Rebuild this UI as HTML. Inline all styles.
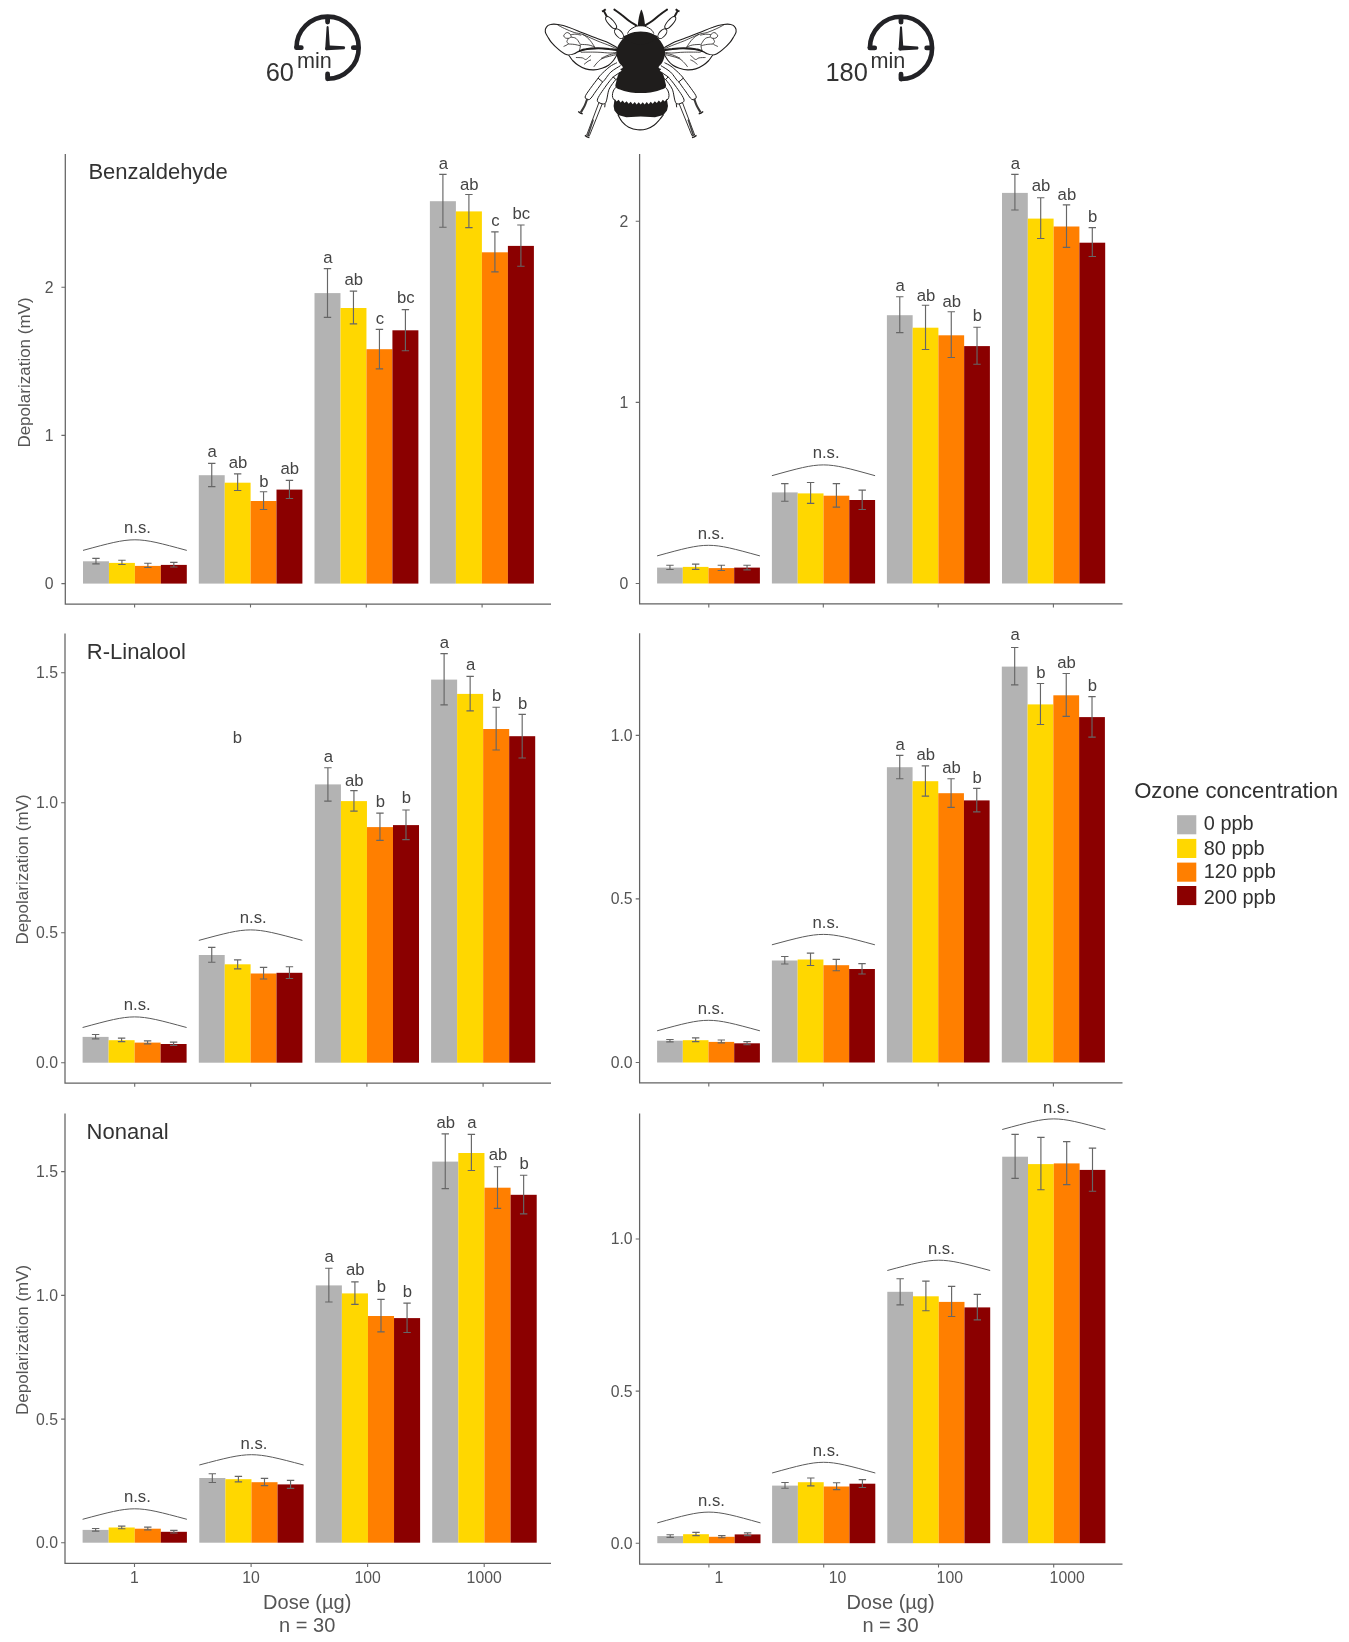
<!DOCTYPE html>
<html><head><meta charset="utf-8"><title>Figure</title>
<style>
html,body{margin:0;padding:0;background:#fff;}
body{width:1349px;height:1642px;overflow:hidden;}
svg{display:block;font-family:"Liberation Sans",sans-serif;will-change:transform;}
</style></head>
<body>
<svg width="1349" height="1642" viewBox="0 0 1349 1642">
<rect x="83" y="561.3" width="25.95" height="22.3" fill="#b3b3b3"/>
<rect x="108.95" y="562.9" width="25.95" height="20.7" fill="#ffd700"/>
<rect x="134.9" y="565.9" width="25.95" height="17.7" fill="#ff7f00"/>
<rect x="160.85" y="564.9" width="25.95" height="18.7" fill="#8b0000"/>
<rect x="198.8" y="475.2" width="25.9" height="108.4" fill="#b3b3b3"/>
<rect x="224.7" y="482.7" width="25.9" height="100.9" fill="#ffd700"/>
<rect x="250.6" y="501" width="25.9" height="82.6" fill="#ff7f00"/>
<rect x="276.5" y="489.6" width="25.9" height="94" fill="#8b0000"/>
<rect x="314.5" y="293.1" width="25.97" height="290.5" fill="#b3b3b3"/>
<rect x="340.48" y="308" width="25.97" height="275.6" fill="#ffd700"/>
<rect x="366.45" y="349.2" width="25.97" height="234.4" fill="#ff7f00"/>
<rect x="392.42" y="330.3" width="25.97" height="253.3" fill="#8b0000"/>
<rect x="429.9" y="201.2" width="26" height="382.4" fill="#b3b3b3"/>
<rect x="455.9" y="211.4" width="26" height="372.2" fill="#ffd700"/>
<rect x="481.9" y="252.3" width="26" height="331.3" fill="#ff7f00"/>
<rect x="507.9" y="245.9" width="26" height="337.7" fill="#8b0000"/>
<g stroke="#666666" stroke-width="1.15" fill="none">
<path d="M95.97 558.4V563.8M92.27 558.4h7.4M92.27 563.8h7.4M121.93 560.2V564.5M118.23 560.2h7.4M118.23 564.5h7.4M147.88 563.2V567.5M144.18 563.2h7.4M144.18 567.5h7.4M173.83 562.4V567M170.13 562.4h7.4M170.13 567h7.4"/>
<path d="M211.75 463.4V486.6M208.05 463.4h7.4M208.05 486.6h7.4M237.65 473.9V490.5M233.95 473.9h7.4M233.95 490.5h7.4M263.55 491.7V509.5M259.85 491.7h7.4M259.85 509.5h7.4M289.45 480.3V498.5M285.75 480.3h7.4M285.75 498.5h7.4"/>
<path d="M327.49 268.6V317.3M323.79 268.6h7.4M323.79 317.3h7.4M353.46 291.1V323.8M349.76 291.1h7.4M349.76 323.8h7.4M379.44 329.4V368.9M375.74 329.4h7.4M375.74 368.9h7.4M405.41 309.6V350.7M401.71 309.6h7.4M401.71 350.7h7.4"/>
<path d="M442.9 174.3V227.2M439.2 174.3h7.4M439.2 227.2h7.4M468.9 194.5V227.6M465.2 194.5h7.4M465.2 227.6h7.4M494.9 231.9V271.9M491.2 231.9h7.4M491.2 271.9h7.4M520.9 225V266.2M517.2 225h7.4M517.2 266.2h7.4"/>
</g>
<g stroke="#5a5a5a" stroke-width="1" fill="none">
<path d="M83 550.4C134.9 536.27 134.9 536.27 186.8 550.4"/>
</g>
<g font-size="16.7" fill="#444444" text-anchor="middle">
<text x="137.5" y="533.4">n.s.</text>
<text x="212.15" y="457.3">a</text>
<text x="238.05" y="468">ab</text>
<text x="263.95" y="487">b</text>
<text x="289.85" y="474.2">ab</text>
<text x="327.89" y="263.2">a</text>
<text x="353.86" y="285.4">ab</text>
<text x="379.84" y="324">c</text>
<text x="405.81" y="303.2">bc</text>
<text x="443.3" y="168.8">a</text>
<text x="469.3" y="189.6">ab</text>
<text x="495.3" y="225.6">c</text>
<text x="521.3" y="219.3">bc</text>
</g>
<path d="M65.3 154V604H551" stroke="#636363" stroke-width="1.25" fill="none"/>
<path d="M65.3 583.6h-3.9M65.3 435.4h-3.9M65.3 287.2h-3.9M134.6 604v3.6M250.5 604v3.6M366.3 604v3.6M482.1 604v3.6" stroke="#6a6a6a" stroke-width="1.1" fill="none"/>
<g font-size="15.8" fill="#555555">
<text x="53.6" y="589" text-anchor="end">0</text>
<text x="53.6" y="440.8" text-anchor="end">1</text>
<text x="53.6" y="292.6" text-anchor="end">2</text>
</g>
<text x="88.4" y="178.7" font-size="22" fill="#333">Benzaldehyde</text>
<text transform="translate(30.3 372.5) rotate(-90)" font-size="17" fill="#555555" text-anchor="middle">Depolarization (mV)</text>
<rect x="657.1" y="567.6" width="25.7" height="15.9" fill="#b3b3b3"/>
<rect x="682.8" y="566.9" width="25.7" height="16.6" fill="#ffd700"/>
<rect x="708.5" y="568.1" width="25.7" height="15.4" fill="#ff7f00"/>
<rect x="734.2" y="567.6" width="25.7" height="15.9" fill="#8b0000"/>
<rect x="771.9" y="492.4" width="25.8" height="91.1" fill="#b3b3b3"/>
<rect x="797.7" y="493.4" width="25.8" height="90.1" fill="#ffd700"/>
<rect x="823.5" y="495.7" width="25.8" height="87.8" fill="#ff7f00"/>
<rect x="849.3" y="500" width="25.8" height="83.5" fill="#8b0000"/>
<rect x="886.9" y="315.2" width="25.75" height="268.3" fill="#b3b3b3"/>
<rect x="912.65" y="327.7" width="25.75" height="255.8" fill="#ffd700"/>
<rect x="938.4" y="335.3" width="25.75" height="248.2" fill="#ff7f00"/>
<rect x="964.15" y="346.1" width="25.75" height="237.4" fill="#8b0000"/>
<rect x="1002" y="192.9" width="25.8" height="390.6" fill="#b3b3b3"/>
<rect x="1027.8" y="218.6" width="25.8" height="364.9" fill="#ffd700"/>
<rect x="1053.6" y="226.5" width="25.8" height="357" fill="#ff7f00"/>
<rect x="1079.4" y="242.7" width="25.8" height="340.8" fill="#8b0000"/>
<g stroke="#666666" stroke-width="1.15" fill="none">
<path d="M669.95 565.2V569.5M666.25 565.2h7.4M666.25 569.5h7.4M695.65 564.1V569.3M691.95 564.1h7.4M691.95 569.3h7.4M721.35 565.2V570.5M717.65 565.2h7.4M717.65 570.5h7.4M747.05 565.2V569.8M743.35 565.2h7.4M743.35 569.8h7.4"/>
<path d="M784.8 483.6V501.2M781.1 483.6h7.4M781.1 501.2h7.4M810.6 482.5V503.3M806.9 482.5h7.4M806.9 503.3h7.4M836.4 483.6V507.1M832.7 483.6h7.4M832.7 507.1h7.4M862.2 490.1V509.5M858.5 490.1h7.4M858.5 509.5h7.4"/>
<path d="M899.77 296.7V332.6M896.07 296.7h7.4M896.07 332.6h7.4M925.52 305.2V349.5M921.82 305.2h7.4M921.82 349.5h7.4M951.27 311.7V357.5M947.57 311.7h7.4M947.57 357.5h7.4M977.02 327.2V364.2M973.32 327.2h7.4M973.32 364.2h7.4"/>
<path d="M1014.9 174.4V210M1011.2 174.4h7.4M1011.2 210h7.4M1040.7 197.7V238.5M1037 197.7h7.4M1037 238.5h7.4M1066.5 204.8V247.4M1062.8 204.8h7.4M1062.8 247.4h7.4M1092.3 227.6V256.5M1088.6 227.6h7.4M1088.6 256.5h7.4"/>
</g>
<g stroke="#5a5a5a" stroke-width="1" fill="none">
<path d="M657.1 555.9C708.5 541.77 708.5 541.77 759.9 555.9"/>
<path d="M771.9 475.7C823.5 461.3 823.5 461.3 875.1 475.7"/>
</g>
<g font-size="16.7" fill="#444444" text-anchor="middle">
<text x="711.1" y="539">n.s.</text>
<text x="826.1" y="458.4">n.s.</text>
<text x="900.17" y="291.4">a</text>
<text x="925.92" y="300.9">ab</text>
<text x="951.67" y="306.9">ab</text>
<text x="977.42" y="320.9">b</text>
<text x="1015.3" y="169.2">a</text>
<text x="1041.1" y="191.4">ab</text>
<text x="1066.9" y="200.1">ab</text>
<text x="1092.7" y="221.5">b</text>
</g>
<path d="M639.6 154V603.8H1122.5" stroke="#636363" stroke-width="1.25" fill="none"/>
<path d="M639.6 583.5h-3.9M639.6 402.4h-3.9M639.6 221.2h-3.9M708.8 603.8v3.6M823.3 603.8v3.6M938.2 603.8v3.6M1053.4 603.8v3.6" stroke="#6a6a6a" stroke-width="1.1" fill="none"/>
<g font-size="15.8" fill="#555555">
<text x="628.4" y="588.9" text-anchor="end">0</text>
<text x="628.4" y="407.8" text-anchor="end">1</text>
<text x="628.4" y="226.6" text-anchor="end">2</text>
</g>
<rect x="82.6" y="1036.9" width="26" height="25.8" fill="#b3b3b3"/>
<rect x="108.6" y="1040.2" width="26" height="22.5" fill="#ffd700"/>
<rect x="134.6" y="1042.6" width="26" height="20.1" fill="#ff7f00"/>
<rect x="160.6" y="1044" width="26" height="18.7" fill="#8b0000"/>
<rect x="198.8" y="955" width="25.9" height="107.7" fill="#b3b3b3"/>
<rect x="224.7" y="964.3" width="25.9" height="98.4" fill="#ffd700"/>
<rect x="250.6" y="973.5" width="25.9" height="89.2" fill="#ff7f00"/>
<rect x="276.5" y="972.8" width="25.9" height="89.9" fill="#8b0000"/>
<rect x="314.9" y="784.4" width="26.03" height="278.3" fill="#b3b3b3"/>
<rect x="340.92" y="801.1" width="26.03" height="261.6" fill="#ffd700"/>
<rect x="366.95" y="827.1" width="26.03" height="235.6" fill="#ff7f00"/>
<rect x="392.98" y="825.1" width="26.03" height="237.6" fill="#8b0000"/>
<rect x="431.1" y="679.6" width="26.03" height="383.1" fill="#b3b3b3"/>
<rect x="457.12" y="693.9" width="26.03" height="368.8" fill="#ffd700"/>
<rect x="483.15" y="729" width="26.03" height="333.7" fill="#ff7f00"/>
<rect x="509.18" y="736.2" width="26.03" height="326.5" fill="#8b0000"/>
<g stroke="#666666" stroke-width="1.15" fill="none">
<path d="M95.6 1034.5V1038.8M91.9 1034.5h7.4M91.9 1038.8h7.4M121.6 1038.1V1041.6M117.9 1038.1h7.4M117.9 1041.6h7.4M147.6 1040.9V1043.8M143.9 1040.9h7.4M143.9 1043.8h7.4M173.6 1042.1V1045.4M169.9 1042.1h7.4M169.9 1045.4h7.4"/>
<path d="M211.75 947.4V962.2M208.05 947.4h7.4M208.05 962.2h7.4M237.65 959.8V968.8M233.95 959.8h7.4M233.95 968.8h7.4M263.55 967.4V979M259.85 967.4h7.4M259.85 979h7.4M289.45 966.7V978.5M285.75 966.7h7.4M285.75 978.5h7.4"/>
<path d="M327.91 767.7V801.1M324.21 767.7h7.4M324.21 801.1h7.4M353.94 790.6V811.1M350.24 790.6h7.4M350.24 811.1h7.4M379.96 813.1V840.3M376.26 813.1h7.4M376.26 840.3h7.4M405.99 810V839.6M402.29 810h7.4M402.29 839.6h7.4"/>
<path d="M444.11 653.6V704.8M440.41 653.6h7.4M440.41 704.8h7.4M470.14 676.3V710.8M466.44 676.3h7.4M466.44 710.8h7.4M496.16 707.2V750M492.46 707.2h7.4M492.46 750h7.4M522.19 714.4V758M518.49 714.4h7.4M518.49 758h7.4"/>
</g>
<g stroke="#5a5a5a" stroke-width="1" fill="none">
<path d="M82.6 1027.5C134.6 1013.37 134.6 1013.37 186.6 1027.5"/>
<path d="M198.8 940.4C250.6 926.4 250.6 926.4 302.4 940.4"/>
</g>
<g font-size="16.7" fill="#444444" text-anchor="middle">
<text x="137.2" y="1010.2">n.s.</text>
<text x="253.2" y="923.4">n.s.</text>
<text x="328.31" y="762.3">a</text>
<text x="354.34" y="785.5">ab</text>
<text x="380.36" y="807.3">b</text>
<text x="406.39" y="803.1">b</text>
<text x="444.51" y="648.2">a</text>
<text x="470.54" y="669.6">a</text>
<text x="496.56" y="700.5">b</text>
<text x="522.59" y="708.7">b</text>
<text x="237.3" y="743.4">b</text>
</g>
<path d="M65 633.4V1083.1H551" stroke="#636363" stroke-width="1.25" fill="none"/>
<path d="M65 1062.7h-3.9M65 932.7h-3.9M65 802.7h-3.9M65 672.8h-3.9M134.7 1083.1v3.6M250.7 1083.1v3.6M366.9 1083.1v3.6M483.1 1083.1v3.6" stroke="#6a6a6a" stroke-width="1.1" fill="none"/>
<g font-size="15.8" fill="#555555">
<text x="58" y="1068.1" text-anchor="end">0.0</text>
<text x="58" y="938.1" text-anchor="end">0.5</text>
<text x="58" y="808.1" text-anchor="end">1.0</text>
<text x="58" y="678.2" text-anchor="end">1.5</text>
</g>
<text x="86.8" y="658.6" font-size="22" fill="#333">R-Linalool</text>
<text transform="translate(28.4 869.5) rotate(-90)" font-size="17" fill="#555555" text-anchor="middle">Depolarization (mV)</text>
<rect x="657.1" y="1040.7" width="25.7" height="21.8" fill="#b3b3b3"/>
<rect x="682.8" y="1040.2" width="25.7" height="22.3" fill="#ffd700"/>
<rect x="708.5" y="1041.9" width="25.7" height="20.6" fill="#ff7f00"/>
<rect x="734.2" y="1043.3" width="25.7" height="19.2" fill="#8b0000"/>
<rect x="771.9" y="960.5" width="25.75" height="102" fill="#b3b3b3"/>
<rect x="797.65" y="959.5" width="25.75" height="103" fill="#ffd700"/>
<rect x="823.4" y="965.2" width="25.75" height="97.3" fill="#ff7f00"/>
<rect x="849.15" y="969" width="25.75" height="93.5" fill="#8b0000"/>
<rect x="886.9" y="767.2" width="25.68" height="295.3" fill="#b3b3b3"/>
<rect x="912.58" y="781.2" width="25.68" height="281.3" fill="#ffd700"/>
<rect x="938.25" y="793.2" width="25.68" height="269.3" fill="#ff7f00"/>
<rect x="963.92" y="800.4" width="25.68" height="262.1" fill="#8b0000"/>
<rect x="1001.8" y="666.6" width="25.78" height="395.9" fill="#b3b3b3"/>
<rect x="1027.58" y="704.4" width="25.78" height="358.1" fill="#ffd700"/>
<rect x="1053.35" y="695.3" width="25.78" height="367.2" fill="#ff7f00"/>
<rect x="1079.12" y="717.1" width="25.78" height="345.4" fill="#8b0000"/>
<g stroke="#666666" stroke-width="1.15" fill="none">
<path d="M669.95 1039.5V1041.9M666.25 1039.5h7.4M666.25 1041.9h7.4M695.65 1037.8V1041.6M691.95 1037.8h7.4M691.95 1041.6h7.4M721.35 1040V1042.8M717.65 1040h7.4M717.65 1042.8h7.4M747.05 1041.6V1044.7M743.35 1041.6h7.4M743.35 1044.7h7.4"/>
<path d="M784.77 956.5V964M781.07 956.5h7.4M781.07 964h7.4M810.52 953.1V965.5M806.82 953.1h7.4M806.82 965.5h7.4M836.27 959.3V970.7M832.57 959.3h7.4M832.57 970.7h7.4M862.02 963.6V974M858.32 963.6h7.4M858.32 974h7.4"/>
<path d="M899.74 755.4V778.7M896.04 755.4h7.4M896.04 778.7h7.4M925.41 765.8V796.1M921.71 765.8h7.4M921.71 796.1h7.4M951.09 778.7V807.3M947.39 778.7h7.4M947.39 807.3h7.4M976.76 788.3V811.9M973.06 788.3h7.4M973.06 811.9h7.4"/>
<path d="M1014.69 647.5V684.9M1010.99 647.5h7.4M1010.99 684.9h7.4M1040.46 683.5V724.5M1036.76 683.5h7.4M1036.76 724.5h7.4M1066.24 673.5V716.4M1062.54 673.5h7.4M1062.54 716.4h7.4M1092.01 696.6V737.1M1088.31 696.6h7.4M1088.31 737.1h7.4"/>
</g>
<g stroke="#5a5a5a" stroke-width="1" fill="none">
<path d="M657.1 1030.8C708.5 1016.8 708.5 1016.8 759.9 1030.8"/>
<path d="M771.9 944.8C823.4 930.93 823.4 930.93 874.9 944.8"/>
</g>
<g font-size="16.7" fill="#444444" text-anchor="middle">
<text x="711.1" y="1013.8">n.s.</text>
<text x="826" y="928.4">n.s.</text>
<text x="900.14" y="749.6">a</text>
<text x="925.81" y="759.5">ab</text>
<text x="951.49" y="773.1">ab</text>
<text x="977.16" y="782.7">b</text>
<text x="1015.09" y="640.1">a</text>
<text x="1040.86" y="677.9">b</text>
<text x="1066.64" y="667.7">ab</text>
<text x="1092.41" y="691">b</text>
</g>
<path d="M639.6 633.3V1082.9H1122.5" stroke="#636363" stroke-width="1.25" fill="none"/>
<path d="M639.6 1062.5h-3.9M639.6 898.9h-3.9M639.6 735.4h-3.9M708.8 1082.9v3.6M823.3 1082.9v3.6M938.2 1082.9v3.6M1053.4 1082.9v3.6" stroke="#6a6a6a" stroke-width="1.1" fill="none"/>
<g font-size="15.8" fill="#555555">
<text x="632.6" y="1067.9" text-anchor="end">0.0</text>
<text x="632.6" y="904.3" text-anchor="end">0.5</text>
<text x="632.6" y="740.8" text-anchor="end">1.0</text>
</g>
<rect x="82.6" y="1529.9" width="26.08" height="12.8" fill="#b3b3b3"/>
<rect x="108.67" y="1527.5" width="26.08" height="15.2" fill="#ffd700"/>
<rect x="134.75" y="1528.7" width="26.08" height="14" fill="#ff7f00"/>
<rect x="160.82" y="1531.8" width="26.08" height="10.9" fill="#8b0000"/>
<rect x="199.3" y="1478" width="26.08" height="64.7" fill="#b3b3b3"/>
<rect x="225.38" y="1479.2" width="26.08" height="63.5" fill="#ffd700"/>
<rect x="251.45" y="1482.2" width="26.08" height="60.5" fill="#ff7f00"/>
<rect x="277.53" y="1484.4" width="26.08" height="58.3" fill="#8b0000"/>
<rect x="315.8" y="1285.4" width="26.08" height="257.3" fill="#b3b3b3"/>
<rect x="341.88" y="1293.4" width="26.08" height="249.3" fill="#ffd700"/>
<rect x="367.95" y="1316" width="26.08" height="226.7" fill="#ff7f00"/>
<rect x="394.03" y="1318.1" width="26.08" height="224.6" fill="#8b0000"/>
<rect x="432.2" y="1161.6" width="26.13" height="381.1" fill="#b3b3b3"/>
<rect x="458.32" y="1153" width="26.13" height="389.7" fill="#ffd700"/>
<rect x="484.45" y="1187.7" width="26.13" height="355" fill="#ff7f00"/>
<rect x="510.58" y="1194.8" width="26.13" height="347.9" fill="#8b0000"/>
<g stroke="#666666" stroke-width="1.15" fill="none">
<path d="M95.64 1528.5V1531.1M91.94 1528.5h7.4M91.94 1531.1h7.4M121.71 1526.1V1528.7M118.01 1526.1h7.4M118.01 1528.7h7.4M147.79 1527.1V1529.9M144.09 1527.1h7.4M144.09 1529.9h7.4M173.86 1530.4V1533M170.16 1530.4h7.4M170.16 1533h7.4"/>
<path d="M212.34 1473.7V1482.5M208.64 1473.7h7.4M208.64 1482.5h7.4M238.41 1476.3V1481.8M234.71 1476.3h7.4M234.71 1481.8h7.4M264.49 1478.4V1485.6M260.79 1478.4h7.4M260.79 1485.6h7.4M290.56 1480.3V1488.4M286.86 1480.3h7.4M286.86 1488.4h7.4"/>
<path d="M328.84 1268.2V1302M325.14 1268.2h7.4M325.14 1302h7.4M354.91 1281.8V1304.3M351.21 1281.8h7.4M351.21 1304.3h7.4M380.99 1299.4V1331.8M377.29 1299.4h7.4M377.29 1331.8h7.4M407.06 1303.1V1332.5M403.36 1303.1h7.4M403.36 1332.5h7.4"/>
<path d="M445.26 1133.8V1188.6M441.56 1133.8h7.4M441.56 1188.6h7.4M471.39 1134.3V1170.5M467.69 1134.3h7.4M467.69 1170.5h7.4M497.51 1166.7V1208.3M493.81 1166.7h7.4M493.81 1208.3h7.4M523.64 1175.2V1213.9M519.94 1175.2h7.4M519.94 1213.9h7.4"/>
</g>
<g stroke="#5a5a5a" stroke-width="1" fill="none">
<path d="M82.6 1519.3C134.75 1505.3 134.75 1505.3 186.9 1519.3"/>
<path d="M199.3 1465C251.45 1451.27 251.45 1451.27 303.6 1465"/>
</g>
<g font-size="16.7" fill="#444444" text-anchor="middle">
<text x="137.35" y="1502.3">n.s.</text>
<text x="254.05" y="1448.7">n.s.</text>
<text x="329.24" y="1261.7">a</text>
<text x="355.31" y="1275">ab</text>
<text x="381.39" y="1291.9">b</text>
<text x="407.46" y="1296.6">b</text>
<text x="445.66" y="1128.2">ab</text>
<text x="471.79" y="1128.2">a</text>
<text x="497.91" y="1160">ab</text>
<text x="524.04" y="1168.7">b</text>
</g>
<path d="M65 1113.5V1563.3H551" stroke="#636363" stroke-width="1.25" fill="none"/>
<path d="M65 1542.7h-3.9M65 1419.1h-3.9M65 1295.4h-3.9M65 1171.6h-3.9M134.5 1563.3v3.6M251.1 1563.3v3.6M367.6 1563.3v3.6M484.2 1563.3v3.6" stroke="#6a6a6a" stroke-width="1.1" fill="none"/>
<g font-size="15.8" fill="#555555">
<text x="58" y="1548.1" text-anchor="end">0.0</text>
<text x="58" y="1424.5" text-anchor="end">0.5</text>
<text x="58" y="1300.8" text-anchor="end">1.0</text>
<text x="58" y="1177" text-anchor="end">1.5</text>
<text x="134.5" y="1583.1" text-anchor="middle">1</text>
<text x="251.1" y="1583.1" text-anchor="middle">10</text>
<text x="367.6" y="1583.1" text-anchor="middle">100</text>
<text x="484.2" y="1583.1" text-anchor="middle">1000</text>
</g>
<text x="86.6" y="1138.6" font-size="22" fill="#333">Nonanal</text>
<text transform="translate(28.4 1339.9) rotate(-90)" font-size="17" fill="#555555" text-anchor="middle">Depolarization (mV)</text>
<text x="307.2" y="1608.9" font-size="20" fill="#555555" text-anchor="middle">Dose (µg)</text>
<text x="307.2" y="1632" font-size="20" fill="#555555" text-anchor="middle">n = 30</text>
<rect x="657.3" y="1536.1" width="25.8" height="7.1" fill="#b3b3b3"/>
<rect x="683.1" y="1534.2" width="25.8" height="9" fill="#ffd700"/>
<rect x="708.9" y="1536.8" width="25.8" height="6.4" fill="#ff7f00"/>
<rect x="734.7" y="1534.4" width="25.8" height="8.8" fill="#8b0000"/>
<rect x="772.1" y="1485.6" width="25.8" height="57.6" fill="#b3b3b3"/>
<rect x="797.9" y="1482.2" width="25.8" height="61" fill="#ffd700"/>
<rect x="823.7" y="1486.5" width="25.8" height="56.7" fill="#ff7f00"/>
<rect x="849.5" y="1483.7" width="25.8" height="59.5" fill="#8b0000"/>
<rect x="887.3" y="1291.8" width="25.73" height="251.4" fill="#b3b3b3"/>
<rect x="913.02" y="1296.3" width="25.73" height="246.9" fill="#ffd700"/>
<rect x="938.75" y="1301.9" width="25.73" height="241.3" fill="#ff7f00"/>
<rect x="964.48" y="1307.4" width="25.73" height="235.8" fill="#8b0000"/>
<rect x="1002.2" y="1156.7" width="25.8" height="386.5" fill="#b3b3b3"/>
<rect x="1028" y="1164.1" width="25.8" height="379.1" fill="#ffd700"/>
<rect x="1053.8" y="1163.4" width="25.8" height="379.8" fill="#ff7f00"/>
<rect x="1079.6" y="1169.9" width="25.8" height="373.3" fill="#8b0000"/>
<g stroke="#666666" stroke-width="1.15" fill="none">
<path d="M670.2 1534.7V1537.3M666.5 1534.7h7.4M666.5 1537.3h7.4M696 1532.3V1535.6M692.3 1532.3h7.4M692.3 1535.6h7.4M721.8 1535.6V1537.7M718.1 1535.6h7.4M718.1 1537.7h7.4M747.6 1532.8V1535.6M743.9 1532.8h7.4M743.9 1535.6h7.4"/>
<path d="M785 1482.5V1488.2M781.3 1482.5h7.4M781.3 1488.2h7.4M810.8 1478V1485.8M807.1 1478h7.4M807.1 1485.8h7.4M836.6 1482.7V1489.6M832.9 1482.7h7.4M832.9 1489.6h7.4M862.4 1479.6V1487.5M858.7 1479.6h7.4M858.7 1487.5h7.4"/>
<path d="M900.16 1278.7V1304.9M896.46 1278.7h7.4M896.46 1304.9h7.4M925.89 1281.1V1310.7M922.19 1281.1h7.4M922.19 1310.7h7.4M951.61 1286.3V1316.5M947.91 1286.3h7.4M947.91 1316.5h7.4M977.34 1294.3V1319.9M973.64 1294.3h7.4M973.64 1319.9h7.4"/>
<path d="M1015.1 1134.3V1178.4M1011.4 1134.3h7.4M1011.4 1178.4h7.4M1040.9 1137.4V1189.7M1037.2 1137.4h7.4M1037.2 1189.7h7.4M1066.7 1141.6V1184.6M1063 1141.6h7.4M1063 1184.6h7.4M1092.5 1148.1V1191.2M1088.8 1148.1h7.4M1088.8 1191.2h7.4"/>
</g>
<g stroke="#5a5a5a" stroke-width="1" fill="none">
<path d="M657.3 1522.9C708.9 1508.5 708.9 1508.5 760.5 1522.9"/>
<path d="M772.1 1473C823.7 1458.73 823.7 1458.73 875.3 1473"/>
<path d="M887.3 1270.5C938.75 1256.77 938.75 1256.77 990.2 1270.5"/>
<path d="M1002.2 1129.5C1053.8 1115.37 1053.8 1115.37 1105.4 1129.5"/>
</g>
<g font-size="16.7" fill="#444444" text-anchor="middle">
<text x="711.5" y="1505.6">n.s.</text>
<text x="826.3" y="1455.8">n.s.</text>
<text x="941.35" y="1254.1">n.s.</text>
<text x="1056.4" y="1112.9">n.s.</text>
</g>
<path d="M639.6 1113.5V1564H1122.5" stroke="#636363" stroke-width="1.25" fill="none"/>
<path d="M639.6 1543.2h-3.9M639.6 1391.1h-3.9M639.6 1239h-3.9M708.9 1564v3.6M823.7 1564v3.6M938.5 1564v3.6M1053.7 1564v3.6" stroke="#6a6a6a" stroke-width="1.1" fill="none"/>
<g font-size="15.8" fill="#555555">
<text x="632.6" y="1548.6" text-anchor="end">0.0</text>
<text x="632.6" y="1396.5" text-anchor="end">0.5</text>
<text x="632.6" y="1244.4" text-anchor="end">1.0</text>
<text x="719" y="1583.1" text-anchor="middle">1</text>
<text x="837.6" y="1583.1" text-anchor="middle">10</text>
<text x="949.8" y="1583.1" text-anchor="middle">100</text>
<text x="1067.2" y="1583.1" text-anchor="middle">1000</text>
</g>
<text x="890.5" y="1608.8" font-size="20" fill="#555555" text-anchor="middle">Dose (µg)</text>
<text x="890.5" y="1632.2" font-size="20" fill="#555555" text-anchor="middle">n = 30</text>
<text x="1134.2" y="798.2" font-size="22.1" fill="#303030">Ozone concentration</text>
<rect x="1177.1" y="815.2" width="19.2" height="19.1" fill="#b3b3b3"/>
<text x="1203.8" y="830" font-size="19.9" fill="#303030">0 ppb</text>
<rect x="1177.1" y="838.9" width="19.2" height="19.1" fill="#ffd700"/>
<text x="1203.8" y="854.6" font-size="19.9" fill="#303030">80 ppb</text>
<rect x="1177.1" y="862.6" width="19.2" height="19.1" fill="#ff7f00"/>
<text x="1203.8" y="878.3" font-size="19.9" fill="#303030">120 ppb</text>
<rect x="1177.1" y="886" width="19.2" height="19.1" fill="#8b0000"/>
<text x="1203.8" y="903.8" font-size="19.9" fill="#303030">200 ppb</text>
<g stroke="#222226" fill="none" stroke-width="4.6">
<path d="M296.5 47.7A31.1 31.1 0 1 1 327.6 78.8"/>
<g stroke-linecap="round" stroke-width="4.8">
<path d="M327.6 17.8v4.2M357.5 47.7h-4.2M327.6 78.8v-4.8M296.5 47.7h4.8"/>
</g></g>
<path d="M325.2 49.1L326.6 26.7Q327.6 25.3 328.6 26.7L329.8 45.4L344.1 46.2L344.4 46.2Q346 47.7 344.4 49.2L326.6 50.3Z" fill="#222226"/>
<circle cx="326.7" cy="48.7" r="1.6" fill="#222226"/>
<text x="265.7" y="81.3" font-size="25.4" fill="#333">60</text>
<text x="296.9" y="68.1" font-size="21.6" fill="#333">min</text>
<g stroke="#222226" fill="none" stroke-width="4.6">
<path d="M869.9 47.9A31.1 31.1 0 1 1 901 79"/>
<g stroke-linecap="round" stroke-width="4.8">
<path d="M901 18v4.2M930.9 47.9h-4.2M901 79v-4.8M869.9 47.9h4.8"/>
</g></g>
<path d="M898.6 49.3L900 26.9Q901 25.5 902 26.9L903.2 45.6L917.5 46.4L917.8 46.4Q919.4 47.9 917.8 49.4L900 50.5Z" fill="#222226"/>
<circle cx="900.1" cy="48.9" r="1.6" fill="#222226"/>
<text x="825.5" y="81.3" font-size="25.4" fill="#333">180</text>
<text x="870.4" y="68.1" font-size="21.6" fill="#333">min</text>
<g id="bee">
<g id="bh">
<path d="M617.1 47.7C615.6 46.9 613 44.9 609.3 43.2C605.6 41.5 602 40.4 597.1 38.5C592.1 36.6 587.6 34.9 582.4 32.8C577.2 30.7 573 28.7 568.5 27.2C564.1 25.6 561.2 25 557.9 24.5C554.6 24 552.7 24 550.6 24.5C548.5 24.9 547.3 25.7 546.4 27.1C545.4 28.4 545 30 545.3 31.8C545.6 33.6 546.6 34.7 547.7 36.7C548.9 38.6 549.4 40 551.4 42.4C553.4 44.8 556.4 47.7 558.8 49.7C561.1 51.8 562.6 52.7 564.5 53.7C566.3 54.6 566.9 55 568.7 55C570.5 55.1 572.3 54.5 574.2 53.8C576.2 53.1 576.4 52.2 579.1 51.4C581.8 50.5 584.7 49.7 588.9 49.2C593.1 48.7 596.8 48.4 602 48.7C607.1 48.9 614.3 50.2 617.1 50.6" fill="#fff" stroke="#1f1d1c" stroke-width="1.1"/>
<path d="M568.7 55C569.4 56 570.9 58.6 572.6 60.5C574.4 62.4 575.9 63.7 578.3 65.2C580.7 66.8 582.8 68 585.7 68.9C588.5 69.8 590.8 70 593.8 69.9C596.8 69.8 599.3 69.1 602 68.2C604.7 67.4 606.4 66.7 608.5 65.2C610.6 63.8 611.7 62.7 613.4 60.5C615.1 58.3 617 54.7 617.9 53.4" fill="#fff" stroke="#1f1d1c" stroke-width="1.1"/>
<path d="M579 51.2C580.2 50.8 582.3 49.7 585.7 49.2C589 48.6 592.7 48.2 597.1 48.1C601.4 48 605.6 48.4 609.3 48.8C613 49.1 615.6 49.7 617.1 49.9" fill="none" stroke="#1f1d1c" stroke-width="1.7"/>
<path d="M557.5 24.9C558.8 25.5 561.4 27.1 564.5 28.5C567.5 29.9 571 31.4 574.2 32.5C577.5 33.5 579.7 33.2 582.4 34.4C585.1 35.6 586.8 37.1 588.9 39.1C591 41.2 592.7 44 593.8 45.7C594.9 47.3 594.6 47.8 594.8 48.3M582.4 34.2C585.1 35.4 592 38.6 597.1 40.8C602.2 42.9 606.5 44.3 610.1 45.8C613.8 47.3 615.8 48.4 617.1 48.9M563.6 35.9C563.9 35.4 564.5 34 565.3 33.4C566 32.8 566.8 32.5 567.7 32.6C568.6 32.8 569.6 33.5 570.2 34.2C570.8 35 571.3 36.1 571 36.9C570.7 37.6 569.6 38.1 568.5 38.3C567.5 38.5 566.2 38.4 565.3 37.9C564.4 37.5 563.9 36.3 563.6 35.9M570.6 34.7C571.5 34.6 573.9 34.1 575.9 34.2C577.8 34.4 580.2 35 581.2 35.2M571 37.1C571.9 37.3 574.4 37.4 575.9 38.3C577.4 39.3 578.3 41.1 579.1 42.4C580 43.7 580.3 44.1 580.4 45.7C580.4 47.2 579.5 50 579.3 51M568.5 38.3C568.2 38.9 567 40.5 566.9 41.6C566.8 42.6 568.7 43.1 568.1 44C567.5 44.9 564.5 46 563.6 46.5M568.1 44C569.3 44.1 572 44.1 574.2 44.4C576.4 44.7 579 45.4 580.1 45.7M580.8 44.4C582.3 44.5 586.4 44.5 588.9 45C591.5 45.5 593.7 46.7 594.8 47.1M580.8 52.2C583.8 52.2 591.7 52 597.1 52.2C602.5 52.3 606.5 53 610.1 53C613.8 53 615.8 52.3 617.1 52.2M575.9 57.5C577.1 57.6 580.6 57.5 582.4 57.9C584.2 58.3 584.5 59.7 585.7 59.5C586.9 59.4 588 57.8 588.9 57.1C589.9 56.3 590.6 55.7 591 55.4M584 64.4C584.8 63.8 586.8 62 588.1 61.2C589.4 60.3 590.4 60.2 591 59.9M593.8 66.9C594.4 66.1 595.6 64.3 597.1 62.8C598.6 61.3 599.7 59.9 602 58.7C604.2 57.5 606.5 57 609.3 56.3C612.1 55.5 615.6 54.8 617.1 54.5M601.2 58.3C602.6 57.7 606.4 55.7 609.3 54.8C612.2 53.9 615.6 53.5 617.1 53.2" fill="none" stroke="#1f1d1c" stroke-width="0.8"/>
<path d="M601.9 11.2L603.6 10.9L605.7 9.2M603.8 10.9L607.2 17.2" fill="none" stroke="#1f1d1c" stroke-width="2"/>
<ellipse cx="611.1" cy="22.6" rx="7.6" ry="2.8" transform="rotate(49.5 611.1 22.6)" fill="#fff" stroke="#1f1d1c" stroke-width="1"/>
<ellipse cx="619" cy="33.7" rx="5.8" ry="3.1" transform="rotate(49 619 33.7)" fill="#fff" stroke="#1f1d1c" stroke-width="1"/>
<path d="M616.9 62.7C615.6 63.5 612.3 64.6 609.1 67.2C606 69.8 599.2 75.8 598.1 78.2C597 80.7 600.5 82.9 602.6 81.9C604.7 80.9 607.8 74.8 610.8 72.1C613.8 69.4 618.9 66.7 620.6 65.6" fill="#fff" stroke="#1f1d1c" stroke-width="1"/>
<path d="M598.1 78.2C596.8 79.9 592.6 85.3 590.4 88.4C588.2 91.6 585.2 95.2 585.1 97C584.9 98.8 587.7 100.5 589.6 99.4C591.4 98.4 593.9 93.8 596.1 90.9C598.3 88 601.5 83.4 602.6 81.9Z" fill="#fff" stroke="#1f1d1c" stroke-width="1"/>
<path d="M587.3 98.6C586.8 99.9 585.9 103 584.7 105.6C583.5 108.1 581.5 111.2 580.8 112.5" fill="none" stroke="#3a3837" stroke-width="2.1"/>
<path d="M578.2 111.5L580.4 113.1L582.7 113.9" fill="none" stroke="#1f1d1c" stroke-width="1.3"/>
<path d="M619.7 72.5L613.2 76.9L615.7 79.6L621 76.4Z" fill="#fff" stroke="#1f1d1c" stroke-width="1"/>
<path d="M613.2 76.9C612 78.4 608.5 82.1 605.9 86C603.2 89.9 597.4 97.4 597.3 100.3C597.2 103.1 603.3 105.1 605.2 103.3C607.2 101.4 607.4 93.2 609.1 89.2C610.9 85.3 614.6 81.2 615.7 79.6Z" fill="#fff" stroke="#1f1d1c" stroke-width="1"/>
<path d="M605.2 103.3L604.7 107.3" fill="none" stroke="#1f1d1c" stroke-width="1"/>
<path d="M598.9 102.7L602.2 103.9L589.4 135.7L586.7 135.1Z" fill="#fff" stroke="#1f1d1c" stroke-width="0.9"/>
<path d="M593.2 119.4L588.1 135.3" fill="none" stroke="#444" stroke-width="1.6"/>
<path d="M584.9 135.3L587.1 136.8L589.4 137.5" fill="none" stroke="#1f1d1c" stroke-width="1.4"/>
<path d="M636.2 25.4C634.9 24.6 631.6 22.8 628.9 20.8C626.2 18.8 624.2 16.7 621.5 14.7C618.9 12.6 615.7 10.5 614.4 9.6" fill="none" stroke="#1f1d1c" stroke-width="2" stroke-linecap="round"/>
</g>
<use href="#bh" transform="translate(1281.4 0) scale(-1 1)"/>
<path d="M640.7 31.2C638.4 31.2 636.6 31.3 634.5 31.8C632.4 32.3 630.9 32.7 629 33.8C627.1 34.9 625.6 36 624 37.6C622.4 39.2 621.2 40.7 620 42.5C618.8 44.3 617.9 45.7 617.2 47.5C616.5 49.3 616.4 50.6 616.4 52.5C616.4 54.4 616.8 56.1 617.3 58C617.8 59.9 618.4 61.3 619.4 63C620.4 64.7 622.6 66.1 622.8 67.2C623 68.3 620.5 68.6 620.3 69.2C620.1 69.8 621.8 69.9 621.6 70.6C621.4 71.3 619.8 71.7 619 73C618.2 74.3 617.7 75.8 617.2 77.5C616.7 79.2 616.5 80.2 616.2 82C615.9 83.8 614.7 85.8 615.8 87.3C616.9 88.8 619.2 89.4 622 90.3C624.8 91.2 627.6 91.9 631 92.4C634.4 92.9 637.1 93 640.7 93C644.3 93 647 92.9 650.4 92.4C653.8 91.9 656.6 91.2 659.4 90.3C662.2 89.4 664.5 88.8 665.6 87.3C666.7 85.8 665.5 83.8 665.2 82C664.9 80.2 664.7 79.2 664.2 77.5C663.7 75.8 663.2 74.3 662.4 73C661.6 71.7 660 71.3 659.8 70.6C659.6 69.9 661.3 69.8 661.1 69.2C660.9 68.6 658.4 68.3 658.6 67.2C658.8 66.1 661 64.7 662 63C663 61.3 663.6 59.9 664.1 58C664.7 56.1 665 54.4 665 52.5C665 50.6 664.9 49.3 664.2 47.5C663.5 45.7 662.6 44.3 661.4 42.5C660.2 40.7 659.1 39.2 657.4 37.6C655.8 36 654.3 34.9 652.4 33.8C650.5 32.7 649 32.3 646.9 31.8C644.8 31.3 643 31.2 640.7 31.2Z" fill="#1f1d1c"/>
<path d="M627.6 33.6C627.9 33.1 628.2 31.7 629.2 30.6C630.2 29.5 631.6 28.6 633 27.8C634.4 27 635.2 26.6 636.6 26.2C638 25.8 639.2 25.8 640.7 25.8C642.2 25.8 643.4 25.8 644.8 26.2C646.2 26.6 647 27 648.4 27.8C649.8 28.6 651.2 29.5 652.2 30.6C653.2 31.7 653.5 33.1 653.8 33.6" fill="#fff" stroke="#1f1d1c" stroke-width="1"/>
<path d="M624 37.8C622 36 627.2 35 629 34C630.8 33 632.5 32.4 634.5 32C636.5 31.6 638.6 31.4 640.7 31.4C642.8 31.4 645 31.6 646.9 32C648.9 32.4 650.7 33 652.4 34C654.2 35 659.4 36 657.4 37.8C655.5 39.6 646.3 45 640.7 45C635.1 45 626 39.6 624 37.8Z" fill="#1f1d1c"/>
<path d="M637.7 26C638.4 18.5 639.9 11.8 641.4 9.6C642.9 11.8 644.4 18.5 645.1 26Z" fill="#1f1d1c"/>
<path d="M615.8 87.3C615.3 88 613.9 89.5 613.3 91C612.7 92.5 612.4 94.1 612.4 95.6C612.4 97.1 612.9 98.1 613.4 99C613.9 99.9 614.9 100.3 615.2 100.6M665.6 87.3C666.1 88 667.5 89.5 668.1 91C668.7 92.5 669 94.1 669 95.6C669 97.1 668.5 98.1 668 99C667.5 99.9 666.5 100.3 666.2 100.6" fill="none" stroke="#1f1d1c" stroke-width="1"/>
<path d="M614.6 98.7L616.6 101.4L618.6 99.7L620.6 102.4L622.6 100.6L624.6 103.1L626.6 101.3L628.7 103.7L630.7 101.8L632.7 104.2L634.7 102.1L636.7 104.4L638.7 102.3L640.7 104.5L642.7 102.3L644.7 104.4L646.7 102.1L648.7 104.2L650.7 101.8L652.7 103.7L654.8 101.3L656.8 103.1L658.8 100.6L660.8 102.4L662.8 99.7L664.8 101.4L666.8 98.7L668 106L667 110.5L663.4 114.9L655 117.3L640.7 116.6L626.4 117.3L618 114.9L614.4 110.5L613.6 106Z" fill="#1f1d1c"/>
<path d="M618 114.9C618.8 116.2 620.2 119.6 622.2 121.9C624.2 124.2 625.9 125.8 628.7 127.2C631.5 128.6 634.4 129.5 637.7 129.8C641 130.1 643.6 129.8 646.6 129C649.6 128.2 651.6 126.9 654 125.2C656.4 123.5 658 121.4 659.7 119.5C661.4 117.6 662.7 115.7 663.4 114.9" fill="none" stroke="#1f1d1c" stroke-width="1.1"/>
</g>

</svg>
</body></html>
